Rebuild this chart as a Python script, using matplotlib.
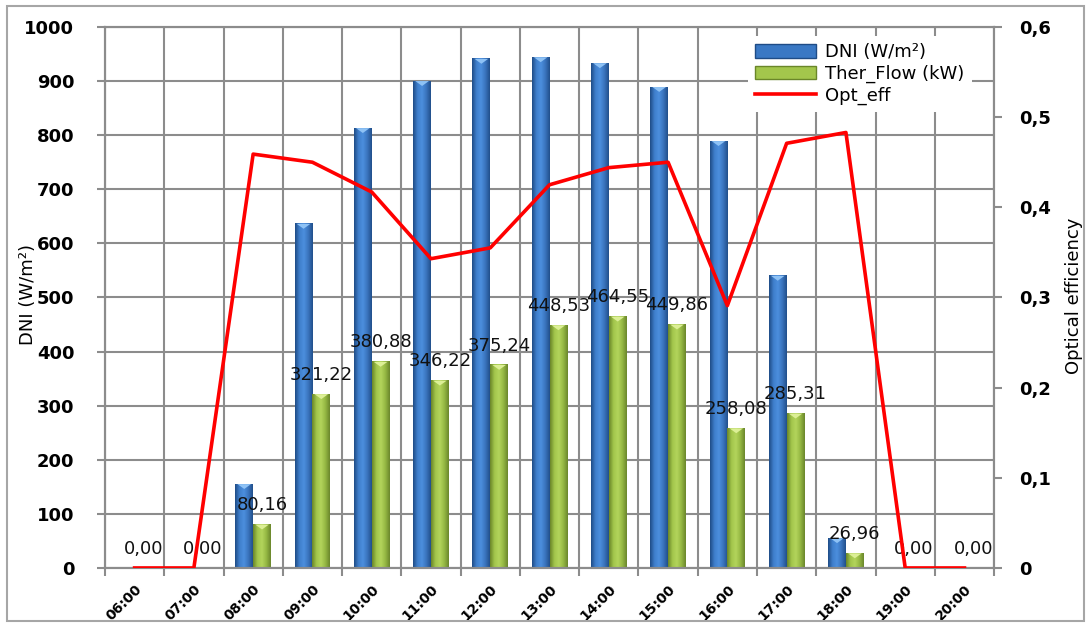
import numpy as np
import matplotlib
matplotlib.use('Agg')
import matplotlib.pyplot as plt
from matplotlib.colors import LinearSegmentedColormap
from matplotlib.patches import Rectangle, Polygon, Patch
from matplotlib.lines import Line2D
from matplotlib.ticker import FuncFormatter

# data
hours = ['06:00', '07:00', '08:00', '09:00', '10:00', '11:00', '12:00', '13:00',
         '14:00', '15:00', '16:00', '17:00', '18:00', '19:00', '20:00']
dni = [0, 0, 155, 636, 813, 900, 941, 944, 933, 889, 789, 540, 55, 0, 0]
ther_flow = [0.00, 0.00, 80.16, 321.22, 380.88, 346.22, 375.24, 448.53,
             464.55, 449.86, 258.08, 285.31, 26.96, 0.00, 0.00]
opt_eff = [0, 0, 0.459, 0.450, 0.417, 0.343, 0.355, 0.425,
           0.444, 0.450, 0.291, 0.471, 0.483, 0, 0]

blue_cmap = LinearSegmentedColormap.from_list(
    'blue_bar', ['#1f4c86', '#3f7fcc', '#4c8fde', '#3a74bd', '#214f8b'])
green_cmap = LinearSegmentedColormap.from_list(
    'green_bar', ['#6a8629', '#a3c64c', '#b3d45c', '#95b843', '#6b872c'])

grid_col = '#8c8c8c'
bar_w = 0.3
cap_h = 9


def gradient_bar(ax, x0, width, height, cmap, cap_col):
    if height <= 0:
        return
    grad = np.linspace(0, 1, 64).reshape(1, -1)
    ax.imshow(grad, cmap=cmap, extent=[x0, x0 + width, 0, height],
              aspect='auto', origin='lower', interpolation='bilinear', zorder=2)
    # lighter bevel on top of the bar
    ax.add_patch(Polygon([(x0 + width * 0.12, height), (x0 + width * 0.88, height),
                          (x0 + width / 2, height - cap_h)],
                         closed=True, facecolor=cap_col, edgecolor='none', zorder=3))


fig = plt.figure(figsize=(10.91, 6.26), dpi=100)
ax = fig.add_axes([0.0962, 0.0927, 0.8150, 0.8642])

x = np.arange(len(hours))
for i in range(len(hours)):
    gradient_bar(ax, x[i] - bar_w, bar_w, dni[i], blue_cmap, '#8ec2f5')
    gradient_bar(ax, x[i], bar_w, ther_flow[i], green_cmap, '#dcef96')

for i in range(len(hours)):
    ax.annotate(f'{ther_flow[i]:.2f}'.replace('.', ','),
                xy=(x[i] + bar_w / 2, ther_flow[i]), xytext=(0, 14),
                textcoords='offset points', ha='center', va='center',
                fontsize=13, color='#111111', zorder=5)

ax.set_xlim(-0.5, len(hours) - 0.5)
ax.set_ylim(0, 1000)
ax.set_yticks(np.arange(0, 1001, 100))
ax.set_xticks(x)
ax.set_xticklabels(hours, rotation=45, ha='right', rotation_mode='anchor',
                   fontsize=10, fontweight='bold')
ax.set_xticks(np.arange(-0.5, len(hours), 1), minor=True)
ax.tick_params(axis='x', which='major', length=0, pad=10)
ax.tick_params(axis='x', which='minor', length=6, color=grid_col, width=1.5)
ax.tick_params(axis='y', length=6, color=grid_col, width=1.5, labelsize=13, pad=16)
for lab in ax.get_yticklabels():
    lab.set_fontweight('bold')
ax.grid(which='minor', axis='x', color=grid_col, lw=1.5, zorder=0)
ax.grid(which='major', axis='y', color=grid_col, lw=1.5, zorder=0)
ax.set_axisbelow(True)
for s in ax.spines.values():
    s.set_color(grid_col)
    s.set_linewidth(1.5)
ax.set_ylabel('DNI (W/m²)', fontsize=13)
ax.yaxis.set_label_coords(-0.0765, 0.505)

ax2 = ax.twinx()
ax2.plot(x, opt_eff, color='#ff0000', lw=2.6, zorder=4)
ax2.set_ylim(0, 0.6)
ax2.set_yticks(np.arange(0, 0.61, 0.1))
ax2.yaxis.set_major_formatter(FuncFormatter(
    lambda v, p: '0' if abs(v) < 1e-9 else f'{v:.1f}'.replace('.', ',')))
ax2.tick_params(axis='y', length=6, color=grid_col, width=1.5, labelsize=13, pad=12)
for lab in ax2.get_yticklabels():
    lab.set_fontweight('bold')
for s in ax2.spines.values():
    s.set_color(grid_col)
    s.set_linewidth(1.5)
ax2.set_ylabel('Optical efficiency', fontsize=13)
ax2.yaxis.set_label_coords(1.080, 0.503)

handles = [Patch(facecolor='#3a78c4', edgecolor='#1f4c86'),
           Patch(facecolor='#a3c64c', edgecolor='#6a8629'),
           Line2D([0], [0], color='#ff0000', lw=2.6)]
leg = ax2.legend(handles, ['DNI (W/m²)', 'Ther_Flow (kW)', 'Opt_eff'],
                 loc='upper right', bbox_to_anchor=(0.985, 1.0), fontsize=13,
                 frameon=True, facecolor='white', edgecolor='none', framealpha=1,
                 fancybox=False, handlelength=3.4, handleheight=0.8,
                 handletextpad=0.5, labelspacing=0.2, borderpad=0.4)
leg.set_zorder(10)

fig.patches.append(Rectangle((0.006, 0.008), 0.988, 0.982, transform=fig.transFigure,
                             fill=False, edgecolor='#a6a6a6', lw=1.5))

plt.savefig('out.png', dpi=100)
